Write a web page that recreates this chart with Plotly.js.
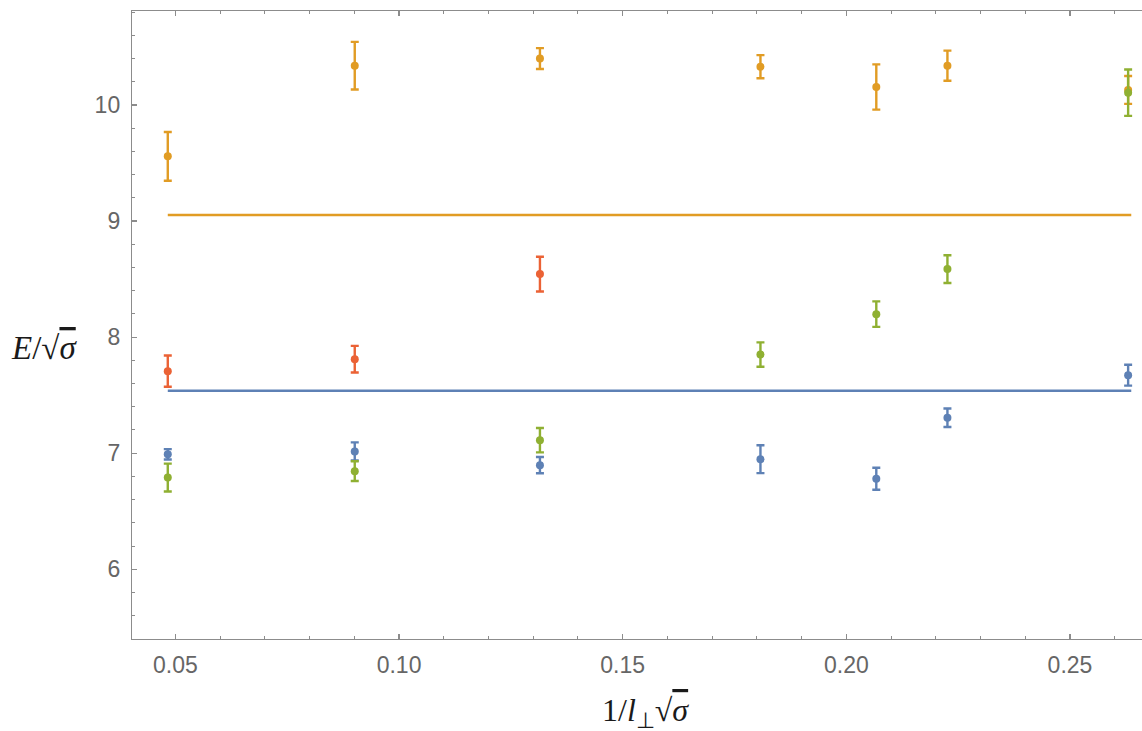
<!DOCTYPE html>
<html>
<head>
<meta charset="utf-8">
<script src="https://cdn.plot.ly/plotly-3.0.1.min.js"></script>
<style>html,body{margin:0;padding:0;background:#fff;}#chart{width:1142px;height:731px;}</style>
</head>
<body>
<div id="chart"></div>
<script>
// x positions 1/(l_perp sqrt(sigma))
const xVals = [0.0483, 0.0901, 0.1315, 0.1808, 0.2067, 0.2226, 0.2630];

// blue series
const blueY   = [6.99, 7.015, 6.897, 6.948, 6.78, 7.305, 7.672];
const blueErr = [0.045, 0.078, 0.07, 0.12, 0.095, 0.08, 0.09];

// orange series
const orangeY   = [9.558, 10.339, 10.40, 10.33, 10.155, 10.339, 10.13];
const orangeErr = [0.21, 0.205, 0.09, 0.10, 0.195, 0.13, 0.12];

// green series
const greenY   = [6.79, 6.845, 7.112, 7.85, 8.198, 8.586, 10.106];
const greenErr = [0.12, 0.085, 0.105, 0.105, 0.11, 0.12, 0.2];

// red series (first three x only)
const redX   = [0.0483, 0.0901, 0.1315];
const redY   = [7.707, 7.81, 8.543];
const redErr = [0.135, 0.115, 0.15];

// horizontal reference levels
const lineX = [0.0483, 0.2637];
const orangeLevel = 9.052;
const blueLevel = 7.537;

const C = {blue:'#5E81B5', orange:'#E19C24', green:'#8FB032', red:'#EB6235'};

function pts(x, y, err, color){
  return {x:x, y:y, type:'scatter', mode:'markers',
    marker:{color:color, size:8},
    error_y:{type:'data', array:err, visible:true, color:color, thickness:2.4, width:4},
    showlegend:false, hoverinfo:'skip'};
}
function hline(level, color){
  return {x:lineX, y:[level, level], type:'scatter', mode:'lines',
    line:{color:color, width:2.5}, showlegend:false, hoverinfo:'skip'};
}

const data = [
  hline(orangeLevel, C.orange),
  hline(blueLevel, C.blue),
  pts(xVals, blueY, blueErr, C.blue),
  pts(xVals, orangeY, orangeErr, C.orange),
  pts(redX, redY, redErr, C.red),
  pts(xVals, greenY, greenErr, C.green)
];

const axisCommon = {
  showgrid:false, zeroline:false, showline:true, linecolor:'#8c8c8c', linewidth:1.2,
  ticks:'inside', ticklen:5, tickwidth:1.2, tickcolor:'#8c8c8c',
  tickfont:{family:'Liberation Sans, Arial, sans-serif', size:23, color:'#666666'}
};

const layout = {
  width:1142, height:731,
  margin:{l:132, r:0, t:11, b:92},
  paper_bgcolor:'#ffffff', plot_bgcolor:'#ffffff',
  xaxis: Object.assign({}, axisCommon, {
    range:[0.0403, 0.2661], tickvals:[0.05,0.10,0.15,0.20,0.25],
    ticktext:['0.05','0.10','0.15','0.20','0.25'],
    mirror:'ticks', ticklabelstandoff:5,
    minor:{dtick:0.01, tick0:0, ticks:'inside', ticklen:3, tickwidth:1, tickcolor:'#8c8c8c'}
  }),
  yaxis: Object.assign({}, axisCommon, {
    range:[5.399, 10.81], tickvals:[6,7,8,9,10], ticktext:['6','7','8','9','10'],
    mirror:false, ticklabelstandoff:6,
    minor:{dtick:0.2, tick0:0, ticks:'inside', ticklen:3, tickwidth:1, tickcolor:'#8c8c8c'}
  }),
  annotations:[
    {xref:'paper', yref:'paper', x:(9-132)/1010, y:(348-639)/(11-639), xanchor:'left', yanchor:'middle',
     text:'<i>E</i>/√<span style="text-decoration:overline"><i>σ</i></span>', showarrow:false,
     font:{family:'Liberation Serif, Times New Roman, serif', size:33, color:'#1a1a1a'}},
    {xref:'paper', yref:'paper', x:(645-132)/1010, y:0, yshift:-73, xanchor:'center', yanchor:'middle',
     text:'1/<i>l</i><sub>⊥</sub>√<span style="text-decoration:overline"><i>σ</i></span>', showarrow:false,
     font:{family:'Liberation Serif, Times New Roman, serif', size:32, color:'#1a1a1a'}}
  ]
};

Plotly.newPlot('chart', data, layout, {displayModeBar:false, staticPlot:true});
</script>
</body>
</html>
